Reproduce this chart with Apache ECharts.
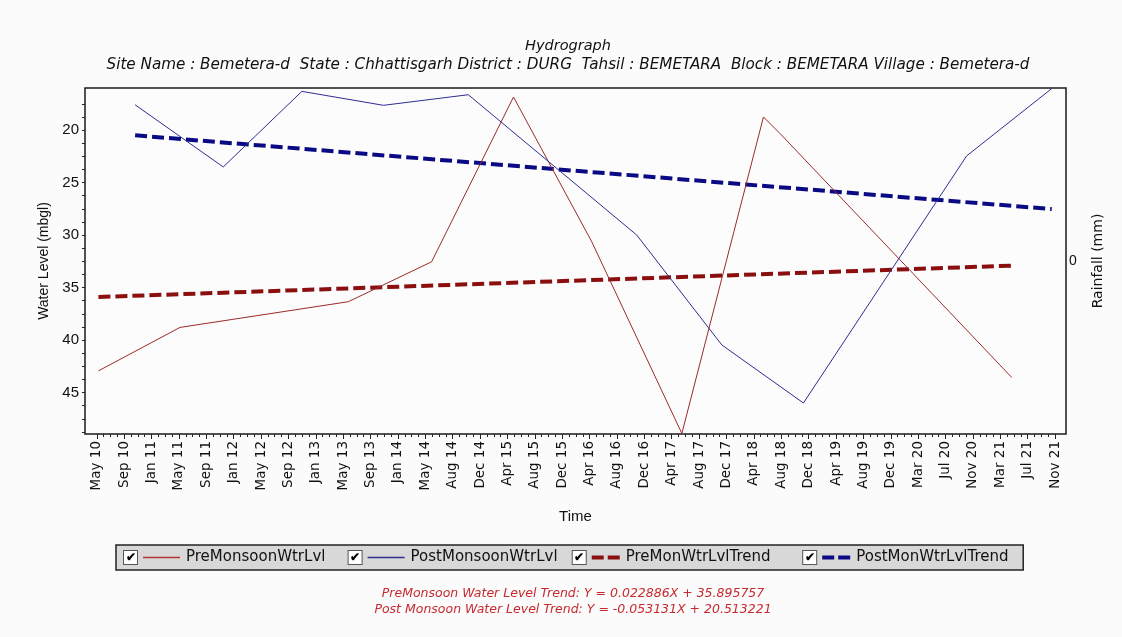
<!DOCTYPE html>
<html>
<head>
<meta charset="utf-8">
<script src="https://cdn.jsdelivr.net/npm/echarts@6/dist/echarts.min.js"></script>
<style>
  html, body { margin: 0; padding: 0; background: #fbfbfb; }
  #chart { width: 1122px; height: 637px; }
</style>
</head>
<body>
<div id="chart"></div>
<script>
// Time axis labels, one evenly spaced slot per label
const timeLabels = ['May 10','Sep 10','Jan 11','May 11','Sep 11','Jan 12','May 12','Sep 12','Jan 13','May 13','Sep 13','Jan 14','May 14','Aug 14','Dec 14','Apr 15','Aug 15','Dec 15','Apr 16','Aug 16','Dec 16','Apr 17','Aug 17','Dec 17','Apr 18','Aug 18','Dec 18','Apr 19','Aug 19','Dec 19','Mar 20','Jul 20','Nov 20','Mar 21','Jul 21','Nov 21'];

// Pre-monsoon water level (m bgl); time given in label-slot units
const preMonsoonTime  = [0.06, 3.04, 9.19, 12.23, 15.22, 18.08, 21.37, 24.35, 24.96, 33.42];
const preMonsoonLevel = [42.94, 38.8, 36.35, 32.55, 16.86, 30.65, 48.9, 18.76, 20.35, 43.57];

// Post-monsoon water level (m bgl)
const postMonsoonTime  = [1.40, 4.62, 7.49, 10.47, 13.57, 19.72, 22.83, 25.81, 31.77, 34.88];
const postMonsoonLevel = [17.6, 23.52, 16.32, 17.65, 16.64, 30.0, 40.47, 46.0, 22.47, 16.05];

// Linear trend end points
const preTrendTime   = [0.06, 33.42];
const preTrendLevel  = [35.90, 32.92];
const postTrendTime  = [1.40, 34.88];
const postTrendLevel = [20.51, 27.53];

// Axis tick labels
const levelLabels = [20, 25, 30, 35, 40, 45];
const rainfallLabels = [0];

const FONT = 'Liberation Sans, Arial, sans-serif';
const WIDE = 'DejaVu Sans, Verdana, sans-serif';
const INK = '#111';

const zip = (xs, ys) => xs.map((x, i) => [x, ys[i]]);

// tick positions: one major tick per label slot with three minor ticks between
const slotTicks = timeLabels.map((_, i) => i);
const slotMinorTicks = [];
for (let i = 0; i < timeLabels.length - 1; i++) {
  for (let k = 1; k < 4; k++) slotMinorTicks.push(i + k / 4);
}
const levelTicks = [];
for (let v = 17.5; v <= 48.8; v += 1.25) levelTicks.push(+v.toFixed(2));

const X_MIN = -0.43, X_MAX = 35.4;

const chart = echarts.init(document.getElementById('chart'), null, { renderer: 'canvas' });

// legend entry: check box, line sample, name, then a trailing spacer
const checkBox = '{cb|✔}{sp| }';
const legendLine = {
  PreMonsoonWtrLvl: '{lpre| }',
  PostMonsoonWtrLvl: '{lpost| }',
  PreMonWtrLvlTrend: '{dpre| }{gap| }{dpre| }',
  PostMonWtrLvlTrend: '{dpost| }{gap| }{dpost| }'
};
const legendTail = {
  PreMonsoonWtrLvl: '{tail1| }',
  PostMonsoonWtrLvl: '{tail2| }',
  PreMonWtrLvlTrend: '{tail3| }',
  PostMonWtrLvlTrend: '{tail4| }'
};

chart.setOption({
  backgroundColor: '#fbfbfb',
  animation: false,
  textStyle: { fontFamily: FONT },
  title: [
    {
      text: 'Hydrograph',
      subtext: 'Site Name : Bemetera-d  State : Chhattisgarh District : DURG  Tahsil : BEMETARA  Block : BEMETARA Village : Bemetera-d',
      left: 563, top: 34, textAlign: 'center', itemGap: 4,
      textStyle: { fontFamily: WIDE, fontSize: 14.5, fontStyle: 'italic', fontWeight: 'normal', color: INK },
      subtextStyle: { fontFamily: WIDE, fontSize: 15.2, fontStyle: 'italic', color: INK }
    },
    {
      text: 'PreMonsoon Water Level Trend: Y = 0.022886X + 35.895757\nPost Monsoon Water Level Trend: Y = -0.053131X + 20.513221',
      left: 568, top: 581, textAlign: 'center',
      textStyle: { fontFamily: WIDE, fontSize: 12.5, fontStyle: 'italic', fontWeight: 'normal', color: '#c62a2f', lineHeight: 16 }
    }
  ],
  grid: {
    left: 85, right: 56, top: 88, bottom: 203,
    show: true, borderColor: '#1a1a1a', borderWidth: 1.5, backgroundColor: '#fcfcfd'
  },
  legend: {
    left: 116, top: 545,
    itemWidth: 0, itemHeight: 0, itemGap: 5,
    padding: [5, 5, 5, 2],
    backgroundColor: '#d8d8d8', borderColor: '#222', borderWidth: 1.5, borderRadius: 0,
    selectedMode: false,
    data: ['PreMonsoonWtrLvl', 'PostMonsoonWtrLvl', 'PreMonWtrLvlTrend', 'PostMonWtrLvlTrend'],
    formatter: name => checkBox + legendLine[name] + '{sp| }{t|' + name + '}' + legendTail[name],
    textStyle: {
      rich: {
        cb: { width: 13, height: 13, align: 'center', fontSize: 12, fontWeight: 'bold', color: '#000',
              backgroundColor: '#fff', borderColor: '#555', borderWidth: 1 },
        sp: { width: 6, height: 2 },
        gap: { width: 4, height: 2 },
        tail1: { width: 21, height: 2 },
        tail2: { width: 5, height: 2 },
        tail3: { width: 40, height: 2 },
        tail4: { width: 16, height: 2 },
        lpre: { width: 37, height: 1.5, backgroundColor: '#b83232' },
        lpost: { width: 37, height: 1.5, backgroundColor: '#2e2e8f' },
        dpre: { width: 12, height: 4, backgroundColor: '#8b0f0f' },
        dpost: { width: 12, height: 4, backgroundColor: '#0a0a85' },
        t: { fontFamily: WIDE, fontSize: 15, color: INK }
      }
    }
  },
  xAxis: [
    {
      type: 'value', min: X_MIN, max: X_MAX, position: 'bottom',
      axisLine: { show: false, onZero: false }, splitLine: { show: false },
      axisTick: { show: true, customValues: slotTicks, length: 5, lineStyle: { color: '#222' } },
      axisLabel: {
        customValues: slotTicks, rotate: 90, margin: 7,
        fontFamily: WIDE, fontSize: 13.5, color: INK,
        formatter: v => timeLabels[Math.round(v)]
      },
      name: 'Time', nameLocation: 'middle', nameGap: 75,
      nameTextStyle: { fontFamily: FONT, fontSize: 15, color: INK }
    },
    {
      type: 'value', min: X_MIN, max: X_MAX, position: 'bottom',
      axisLine: { show: false, onZero: false }, splitLine: { show: false },
      axisTick: { show: true, customValues: slotMinorTicks, length: 3, lineStyle: { color: '#222' } },
      axisLabel: { show: false }
    }
  ],
  yAxis: [
    {
      type: 'value', inverse: true, min: 16.0, max: 48.95, position: 'left',
      axisLine: { show: false, onZero: false }, splitLine: { show: false },
      axisTick: { show: true, customValues: levelTicks, length: 3, lineStyle: { color: '#222' } },
      axisLabel: { customValues: levelLabels, margin: 6, fontFamily: FONT, fontSize: 15, color: INK },
      name: 'Water Level (mbgl)', nameLocation: 'middle', nameGap: 28,
      nameTextStyle: { fontFamily: FONT, fontSize: 14, color: INK }
    },
    {
      type: 'value', min: -1, max: 1, position: 'right',
      axisLine: { show: false, onZero: false }, splitLine: { show: false }, axisTick: { show: false },
      axisLabel: { customValues: rainfallLabels, margin: 3, fontFamily: FONT, fontSize: 14, color: INK },
      name: 'Rainfall (mm)', nameLocation: 'middle', nameGap: 25, nameRotate: 90,
      nameTextStyle: { fontFamily: WIDE, fontSize: 14, color: INK }
    }
  ],
  series: [
    {
      name: 'PreMonsoonWtrLvl', type: 'line', symbol: 'none', silent: true,
      data: zip(preMonsoonTime, preMonsoonLevel),
      lineStyle: { color: '#9c2a2a', width: 1 }, itemStyle: { color: '#b83232' }, z: 3
    },
    {
      name: 'PostMonsoonWtrLvl', type: 'line', symbol: 'none', silent: true,
      data: zip(postMonsoonTime, postMonsoonLevel),
      lineStyle: { color: '#2e2e8f', width: 1 }, itemStyle: { color: '#2e2e8f' }, z: 3
    },
    {
      name: 'PreMonWtrLvlTrend', type: 'line', symbol: 'none', silent: true,
      data: zip(preTrendTime, preTrendLevel),
      lineStyle: { color: '#8b0f0f', width: 4, type: [12, 5] }, itemStyle: { color: '#8b0f0f' }, z: 2
    },
    {
      name: 'PostMonWtrLvlTrend', type: 'line', symbol: 'none', silent: true,
      data: zip(postTrendTime, postTrendLevel),
      lineStyle: { color: '#0a0a85', width: 4, type: [12, 5] }, itemStyle: { color: '#0a0a85' }, z: 2
    }
  ]
});
</script>
</body>
</html>
